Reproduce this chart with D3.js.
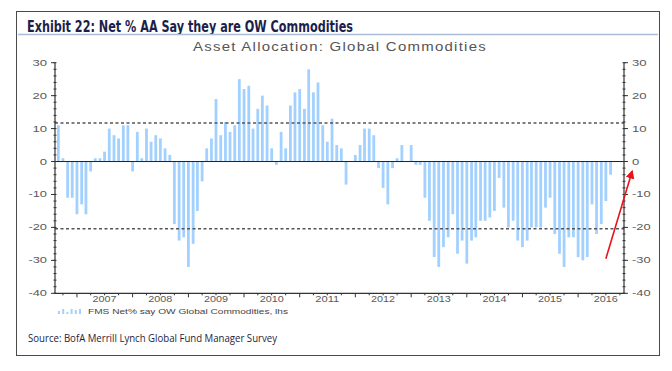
<!DOCTYPE html>
<html>
<head>
    <meta charset="utf-8">
    <script src="https://d3js.org/d3.v7.min.js"></script>
    <style>
        body {
            margin: 0;
            background-color: white;
        }

        svg text {
            font-family: 'Liberation Sans', Arial, sans-serif;
        }
    </style>
</head>

<body>
    <svg id="chart" width="672" height="371"></svg>
    <script>
        // monthly survey values, Sep 2006 .. Aug 2016 (net % overweight commodities)
        var firstMonth = '2006-09';
        var netOW = [
            11, 1, -11, -11, -16, -13, -16, -3,
            1, 1, 3, 10, 8, 7, 11, 11, -3, 9, 1, 10, 6, 8, 7, 4,
            2, -19, -24, -23, -32, -25, -15, -6, 4, 7, 19, 8,
            12, 9, 11, 25, 22, 23, 10, 16, 20, 17, 4, -1,
            9, 4, 17, 21, 22, 16, 28, 21, 24, 11, 6, 13,
            5, 4, -7, 0, 2, 5, 10, 10, 8, -2, -8, -13,
            -2, 1, 5, 0, 5, -1, -1, -11, -18, -29, -32, -26,
            -23, -16, -28, -24, -31, -24, -23, -18, -18, -17, -15, -5,
            -14, -20, -18, -24, -26, -24, -20, -20, -20, -14, -11, -22,
            -28, -32, -23, -23, -29, -30, -29, -13, -22, -19, -12, -4
        ];
        var yearLabels = ['2007', '2008', '2009', '2010', '2011', '2012', '2013', '2014', '2015', '2016'];
        var yTicks = [30, 20, 10, 0, -10, -20, -30, -40];
        var bandLines = [11.7, -20.4];
        var arrowFrom = ['2016-07-01', -29.5];
        var arrowTo = ['2016-12-20', -3];

        var svg = d3.select('#chart');
        var parseMonth = d3.timeParse('%Y-%m');
        var parseDay = d3.timeParse('%Y-%m-%d');
        var start = parseMonth(firstMonth);
        var data = netOW.map(function (v, i) {
            return { date: d3.timeMonth.offset(start, i), value: v };
        });

        var plotLeft = 55, plotRight = 624, plotTop = 62.7, plotBottom = 293.3;
        var x = d3.scaleTime()
            .domain([parseDay('2006-08-10'), parseDay('2016-10-28')])
            .range([plotLeft, plotRight]);
        var y = d3.scaleLinear().domain([-40, 30]).range([plotBottom, plotTop]);

        // frame and headings
        svg.append('rect')
            .attr('x', 16.5).attr('y', 11.5).attr('width', 643).attr('height', 344)
            .attr('fill', 'none').attr('stroke', '#4a4a4a').attr('stroke-width', 1);

        svg.append('text')
            .attr('x', 27).attr('y', 31.5)
            .attr('textLength', 326).attr('lengthAdjust', 'spacingAndGlyphs')
            .style('font-family', "'Liberation Sans Narrow', 'DejaVu Sans Condensed', sans-serif")
            .style('font-weight', 'bold').style('font-size', '15px')
            .attr('fill', '#1c1f4a')
            .text('Exhibit 22: Net % AA Say they are OW Commodities');

        svg.append('line')
            .attr('x1', 18).attr('x2', 658).attr('y1', 34.5).attr('y2', 34.5)
            .attr('stroke', '#a9bdd8').attr('stroke-width', 1.5);

        svg.append('text')
            .attr('x', 193).attr('y', 50.5)
            .attr('textLength', 294).attr('lengthAdjust', 'spacingAndGlyphs')
            .style('font-size', '12px').style('letter-spacing', '1px').attr('fill', '#555')
            .text('Asset Allocation: Global Commodities');

        var plot = svg.append('g');

        // bars
        plot.selectAll('rect.bar')
            .data(data)
            .join('rect')
            .attr('class', 'bar')
            .attr('x', function (d) { return x(d.date) - 1.4; })
            .attr('width', 2.8)
            .attr('y', function (d) { return Math.min(y(d.value), y(0)); })
            .attr('height', function (d) { return Math.abs(y(d.value) - y(0)); })
            .attr('fill', '#a3d1ff');

        // mean +/- std lines
        plot.selectAll('line.band')
            .data(bandLines)
            .join('line')
            .attr('class', 'band')
            .attr('x1', plotLeft).attr('x2', plotRight)
            .attr('y1', function (d) { return y(d); })
            .attr('y2', function (d) { return y(d); })
            .attr('stroke', '#555').attr('stroke-width', 1.3)
            .attr('stroke-dasharray', '3,2.5');

        plot.append('line')
            .attr('x1', plotLeft).attr('x2', plotRight)
            .attr('y1', y(0)).attr('y2', y(0))
            .attr('stroke', '#222').attr('stroke-width', 1);

        // y axes, left and right
        var minor = d3.range(-40, 31, 2);
        function yAxis(xPos, side) {
            var g = svg.append('g');
            g.append('line')
                .attr('x1', xPos).attr('x2', xPos).attr('y1', plotTop).attr('y2', plotBottom)
                .attr('stroke', '#333').attr('stroke-width', 1.2);
            g.selectAll('line.minor')
                .data(minor)
                .join('line')
                .attr('class', 'minor')
                .attr('x1', xPos - 1.5).attr('x2', xPos + 1.5)
                .attr('y1', function (d) { return y(d); })
                .attr('y2', function (d) { return y(d); })
                .attr('stroke', '#333');
            g.selectAll('line.major')
                .data(yTicks)
                .join('line')
                .attr('class', 'major')
                .attr('x1', xPos).attr('x2', xPos + side * 4)
                .attr('y1', function (d) { return y(d); })
                .attr('y2', function (d) { return y(d); })
                .attr('stroke', '#333');
            g.selectAll('text')
                .data(yTicks)
                .join('text')
                .attr('x', xPos + side * 8)
                .attr('y', function (d) { return y(d); })
                .attr('dy', '0.35em')
                .attr('text-anchor', side < 0 ? 'end' : 'start')
                .attr('textLength', function (d) {
                    var s = String(Math.abs(d));
                    return s.length * 7.3 + (d < 0 ? 4 : 0);
                })
                .attr('lengthAdjust', 'spacingAndGlyphs')
                .style('font-size', '8.5px').attr('fill', '#5a5a5a')
                .text(function (d) { return d < 0 ? '-' + Math.abs(d) : d; });
        }
        yAxis(plotLeft, -1);
        yAxis(plotRight, 1);

        // x axis
        var xg = svg.append('g');
        xg.append('line')
            .attr('x1', plotLeft).attr('x2', plotRight).attr('y1', plotBottom).attr('y2', plotBottom)
            .attr('stroke', '#333').attr('stroke-width', 1.2);
        var quarters = d3.timeMonth.every(3).range(x.domain()[0], x.domain()[1]);
        xg.selectAll('line.q')
            .data(quarters)
            .join('line')
            .attr('class', 'q')
            .attr('x1', function (d) { return x(d); })
            .attr('x2', function (d) { return x(d); })
            .attr('y1', plotBottom)
            .attr('y2', function (d) { return plotBottom + (d.getMonth() === 0 ? 4 : 2); })
            .attr('stroke', '#333');
        xg.selectAll('text')
            .data(yearLabels)
            .join('text')
            .attr('x', function (d) { return x(new Date(+d, 6, 1)); })
            .attr('y', 301.5)
            .attr('text-anchor', 'middle')
            .attr('textLength', 24).attr('lengthAdjust', 'spacingAndGlyphs')
            .style('font-size', '9px').attr('fill', '#5a5a5a')
            .text(function (d) { return d; });

        // legend
        var legendBars = [3, 5, 2, 5, 4, 5];
        var lx = d3.scaleLinear().domain([0, legendBars.length - 1]).range([59, 80]);
        svg.selectAll('rect.leg')
            .data(legendBars)
            .join('rect')
            .attr('class', 'leg')
            .attr('x', function (d, i) { return lx(i) - 1; })
            .attr('y', function (d) { return 314 - d; })
            .attr('width', 2)
            .attr('height', function (d) { return d; })
            .attr('fill', '#a3d1ff');
        svg.append('text')
            .attr('x', 88).attr('y', 314)
            .attr('textLength', 200).attr('lengthAdjust', 'spacingAndGlyphs')
            .style('font-size', '7px').attr('fill', '#444')
            .text('FMS Net% say OW Global Commodities, lhs');

        // source
        svg.append('text')
            .attr('x', 28).attr('y', 342)
            .attr('textLength', 249).attr('lengthAdjust', 'spacingAndGlyphs')
            .style('font-family', "'Open Sans', sans-serif")
            .style('font-size', '10.5px').attr('fill', '#1d1d3d')
            .text('Source: BofA Merrill Lynch Global Fund Manager Survey');

        // red arrow to latest reading
        var defs = svg.append('defs');
        defs.append('marker')
            .attr('id', 'head')
            .attr('viewBox', '0 0 10 10')
            .attr('refX', 8).attr('refY', 5)
            .attr('markerWidth', 5.5).attr('markerHeight', 5.5)
            .attr('orient', 'auto')
            .append('path')
            .attr('d', 'M0,0L10,5L0,10z')
            .attr('fill', '#e8141c');
        svg.append('line')
            .attr('x1', x(parseDay(arrowFrom[0]))).attr('y1', y(arrowFrom[1]))
            .attr('x2', x(parseDay(arrowTo[0]))).attr('y2', y(arrowTo[1]))
            .attr('stroke', '#e8141c').attr('stroke-width', 1.6)
            .attr('marker-end', 'url(#head)');
    </script>
</body>
</html>
